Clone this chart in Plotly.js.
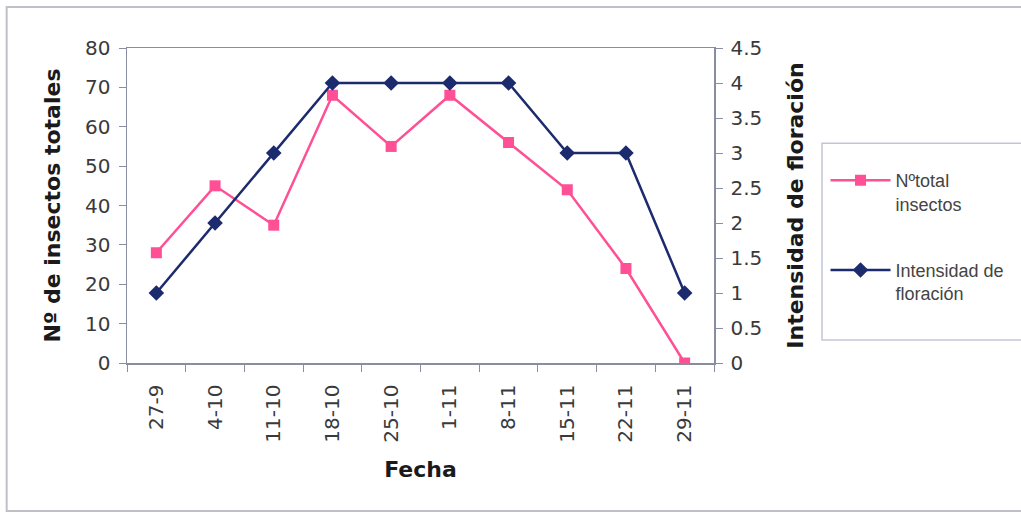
<!DOCTYPE html>
<html>
<head>
<meta charset="utf-8">
<script src="https://cdn.plot.ly/plotly-3.0.1.min.js"></script>
<style>html,body{margin:0;padding:0;background:#fff;}#chart{width:1021px;height:514px;}</style>
</head>
<body>
<div id="chart"></div>
<script>
var fechas = ["27-9","4-10","11-10","18-10","25-10","1-11","8-11","15-11","22-11","29-11"];
var insectos = [28,45,35,68,55,68,56,44,24,0];
var floracion = [1,2,3,4,4,4,4,3,3,1];

var pink = "#ff4f95";
var navy = "#1c2a6e";
var axisCol = "#8a8ca0";

var traces = [
  {x: fechas, y: insectos, name: "Nºtotal<br>insectos", type: "scatter", mode: "lines+markers",
   line: {color: pink, width: 2.5}, marker: {symbol: "square", size: 11, color: pink},
   legendgroup: "a", yaxis: "y"},
  {x: fechas, y: floracion, name: "Intensidad de<br>floración", type: "scatter", mode: "lines+markers",
   line: {color: navy, width: 2.5}, marker: {symbol: "diamond", size: 12, color: navy},
   legendgroup: "b", yaxis: "y2"}
];

var tickFont = {family: "DejaVu Sans, sans-serif", size: 20, color: "#3a3a3a"};
var titleFont = {family: "DejaVu Sans, sans-serif", size: 22, color: "#1a1a1a", weight: "bold"};

var layout = {
  width: 1021, height: 514,
  margin: {l: 127, r: 307, t: 48, b: 151},
  paper_bgcolor: "#fff", plot_bgcolor: "#fff",
  showlegend: true,
  legend: {x: 1.19, y: 0.638, xanchor: "left", yanchor: "top", valign: "top",
    borderwidth: 0, bgcolor: "rgba(0,0,0,0)",
    font: {family: "Liberation Sans, Arial, sans-serif", size: 18, color: "#444"},
    tracegroupgap: 40, itemwidth: 60},
  xaxis: {type: "category", range: [-0.5, 9.5], tickangle: -90,
    showline: true, linecolor: axisCol, linewidth: 1.5, mirror: true,
    ticks: "outside", tickson: "boundaries", ticklen: 7, tickcolor: axisCol,
    ticklabelstandoff: 12,
    showgrid: false, zeroline: false, tickfont: tickFont,
    title: {text: "Fecha", font: titleFont, standoff: 20}},
  yaxis: {range: [0, 80], dtick: 10, showgrid: false, zeroline: false,
    showline: true, linecolor: axisCol, linewidth: 1.5, mirror: true,
    ticks: "outside", ticklen: 7, tickcolor: axisCol, tickfont: tickFont,
    ticklabelstandoff: 4,
    title: {text: "Nº de insectos totales", font: titleFont, standoff: 18}},
  yaxis2: {overlaying: "y", side: "right", range: [0, 4.5], dtick: 0.5,
    showgrid: false, zeroline: false, showline: true, linecolor: axisCol, linewidth: 1.5,
    ticks: "outside", ticklen: 7, tickcolor: axisCol, tickfont: tickFont,
    ticklabelstandoff: 4,
    title: {text: "Intensidad de floración", font: titleFont, standoff: 26}},
  shapes: [
    {type: "rect", xref: "paper", yref: "paper", x0: -0.205, x1: 1.535, y0: -0.47, y1: 1.13,
     line: {color: "#c0c0c8", width: 2}, fillcolor: "rgba(0,0,0,0)"},
    {type: "rect", xref: "paper", yref: "paper", x0: 1.184, x1: 1.56, y0: 0.073, y1: 0.698,
     line: {color: "#c4c6d6", width: 1.5}, fillcolor: "rgba(0,0,0,0)"}
  ]
};

Plotly.newPlot("chart", traces, layout, {displayModeBar: false, staticPlot: true});
</script>
</body>
</html>
